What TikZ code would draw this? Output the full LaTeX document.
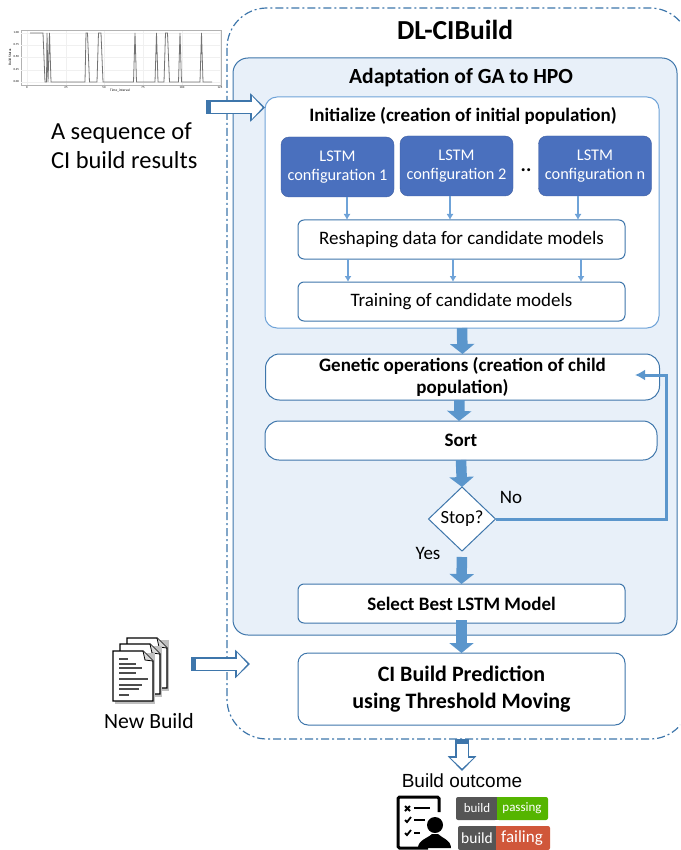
\documentclass[tikz,border=0pt]{standalone}
\usepackage{fontspec}
\setmainfont{Carlito}
\newfontfamily\arialfont{Liberation Sans}
\usetikzlibrary{arrows.meta}
\usetikzlibrary{positioning}
\usetikzlibrary{shapes.geometric}
\definecolor{panelblue}{HTML}{E8F0F9}
\definecolor{edgeblue}{HTML}{3E76AB}
\definecolor{softblue}{HTML}{6FA3D8}
\definecolor{fatblue}{HTML}{5B96CC}
\definecolor{lstmblue}{HTML}{4A70BE}
\definecolor{badgegray}{HTML}{555555}
\definecolor{badgegreen}{HTML}{55B500}
\definecolor{badgered}{HTML}{D0573A}
\newcommand{\fsize}[1]{\fontsize{#1}{#1}\selectfont\baselineskip=1.2\baselineskip}
\newcommand{\hollowlink}[2]{
	\draw[hollowout] (#1) -- (#2);
	\draw[hollowin] (#1) -- (#2);
}
\begin{document}
\begin{tikzpicture}[
		x=1pt, y=-1pt,
		every node/.style={inner sep=0pt, outer sep=0pt, align=center},
		panel/.style={draw=edgeblue, line width=1pt, fill=panelblue, rounded corners=15pt},
		initbox/.style={draw=softblue, line width=1pt, fill=white, rounded corners=12pt, minimum width=394pt, minimum height=231pt},
		lstm/.style={draw=lstmblue!85!black, fill=lstmblue, rounded corners=8pt, minimum width=113pt, minimum height=60pt, text=white, font=\fsize{16.3}},
		stepbox/.style={draw=edgeblue, line width=1pt, fill=white, rounded corners=6pt, minimum width=327pt, minimum height=39pt, font=\fsize{19}},
		widebox/.style={draw=edgeblue, line width=1pt, fill=white, rounded corners=14pt, minimum width=394pt, font=\bfseries\fsize{19}},
		thinarrow/.style={draw=softblue, line width=1.3pt, -{Latex[length=6pt, width=7pt]}},
		fatarrow/.style={draw=fatblue, line width=10.5pt, -{Triangle[length=10pt, width=24pt]}},
		looparrow/.style={draw=fatblue, line width=3pt, -{Latex[length=10pt, width=11pt]}},
		hollowout/.style={draw=edgeblue, line width=14pt, -{Triangle[length=15pt, width=28pt]}},
		hollowin/.style={draw=white, line width=11pt, shorten <=5pt, shorten >=2.5pt, -{Triangle[length=10.5pt, width=22pt]}},
		outlabel/.style={font=\fsize{24.5}, align=left},
		docpage/.style={draw=black, line width=1.2pt, fill=white},
	]
	\useasboundingbox (0,0) rectangle (680,850);
	% outer frame
	\begin{scope}
		\clip (0,0) rectangle (680,850);
		\draw[edgeblue, line width=1.2pt, dash pattern=on 8pt off 3pt on 2pt off 3pt, rounded corners=40pt] (227,8) rectangle (690,739);
	\end{scope}
	\node[font=\bfseries\fsize{27.5}] (title) at (455,30) {DL-CIBuild};
	\draw[panel] (233,58) rectangle (677,635);
	\node[font=\bfseries\fsize{21.6}] (gatitle) at (461,78) {Adaptation of GA to HPO};

	% initial population
	\node[initbox] (init) at (462,212.5) {};
	\node[font=\bfseries\fsize{19}] (inittitle) at (463,116) {Initialize (creation of initial population)};
	\node[lstm] (cfga) at (337.5,167) {LSTM\\configuration 1};
	\node[lstm] (cfgb) at (456.5,166) {LSTM\\configuration 2};
	\node[lstm] (cfgn) at (595,166) {LSTM\\configuration n};
	\node[font=\bfseries\fsize{20}] (dots) at (526,170) {..};
	\node[stepbox] (reshape) at (461.5,239.5) {\raisebox{-2pt}{Reshaping data for candidate models}};
	\node[stepbox, below=23pt of reshape] (train) {\raisebox{-2pt}{Training of candidate models}};

	\draw[thinarrow] (cfga.south -| 347,0) -- (347,220);
	\draw[thinarrow] (cfgb.south -| 450,0) -- (450,220);
	\draw[thinarrow] (cfgn.south -| 578,0) -- (578,220);
	\draw[thinarrow] (reshape.south -| 348,0) -- (train.north -| 348,0);
	\draw[thinarrow] (reshape.south -| 453,0) -- (train.north -| 453,0);
	\draw[thinarrow] (reshape.south -| 581,0) -- (train.north -| 581,0);

	% main column
	\node[widebox, minimum height=46pt] (genetic) at (462.5,377) {Genetic operations (creation of child\\population)};
	\node[widebox, minimum width=392pt, minimum height=39pt, below=21pt of genetic.south, anchor=north, xshift=-1.5pt] (sort) {Sort};
	\node[diamond, draw=edgeblue, line width=1pt, fill=white, minimum width=67pt, minimum height=64pt, aspect=1, font=\fsize{18.6}] (stop) at (462,519) {};
	\node[font=\fsize{18.6}] (stoplabel) at (stop) {Stop?};
	\node[stepbox, font=\bfseries\fsize{19}] (select) at (461.5,603.5) {Select Best LSTM Model};
	\node[stepbox, minimum height=72pt, rounded corners=10pt, font=\bfseries\fsize{22}, below=30pt of select] (predict) {CI Build Prediction\\using Threshold Moving};
	\node[font=\fsize{19}] (nolabel) at (511,497) {No};
	\node[font=\fsize{19}] (yeslabel) at (428,553) {Yes};

	\draw[fatarrow] (init.south) -- (genetic.north);
	\draw[fatarrow] ([xshift=-3pt]genetic.south) -- ([xshift=-2pt]sort.north);
	\draw[fatarrow] (sort.south) -- (stop.north);
	\draw[fatarrow, shorten <=6pt] (stop.south) -- (select.north);
	\draw[fatarrow, shorten <=-3pt] (select.south) -- (predict.north);

	\coordinate (loopturn) at (666,375);
	\coordinate (looptip) at (635,375);
	\draw[looparrow] (stop.east) -| (loopturn) -- (looptip);

	% input plot
	\node[minimum width=200pt, minimum height=55pt, draw=black!30, line width=1pt] (plotframe) at (121,58) {};
	\foreach \gx in {27,66,104,143,182,220} {
		\draw[black!6, line width=0.5pt] (\gx,31) -- (\gx,85);
	}
	\foreach \gy in {33,45,57,70,82} {
		\draw[black!6, line width=0.5pt] (21,\gy) -- (221,\gy);
	}
	\draw[black!55, line width=0.8pt] (30,33) -- (43,33) -- (45,82) -- (46.5,82) -- (47,33) -- (48,82) -- (49.5,33) -- (51,82) -- (85,82) -- (86,33) -- (87.5,33) -- (89.5,82) -- (97,82) -- (98.5,33) -- (101,33) -- (103,82) -- (133.5,82) -- (135,33) -- (136.5,82) -- (155,82) -- (156.5,33) -- (158,82) -- (164,82) -- (165.5,33) -- (167.5,33) -- (169.5,82) -- (178.5,82) -- (180,33) -- (181.5,82) -- (200,82) -- (201.5,33) -- (203,82) -- (212,82);
	\node[font=\fsize{3.5}] (plotx) at (120,91) {Time\_interval};
	\node[font=\fsize{3.5}, rotate=90] (ploty) at (10,57) {Build Status};
	\foreach \tv/\gy in {1.00/33,0.75/45,0.50/57,0.25/70,0.00/82} {
		\node[font=\fsize{3}, anchor=east] at (19,\gy) {\tv};
	}
	\foreach \tv/\gx in {0/27,25/66,50/104,75/143,100/182,125/220} {
		\node[font=\fsize{3}] at (\gx,87.5) {\tv};
	}
	\node[outlabel, anchor=north west] (seqlabel) at (51,122.5) {A sequence of\\CI build results};
	\coordinate (seqtail) at (206,107.5);
	\coordinate (seqhead) at (265,107.5);
	\hollowlink{seqtail}{seqhead}

	% new build pages
	\foreach \dx/\dy in {14/-13,7/-7,0/0} {
		\fill[black!25] (115+\dx,653+\dy) -- (155+\dx,653+\dy) -- (155+\dx,704+\dy) -- (115+\dx,704+\dy) -- cycle;
		\draw[docpage] (113+\dx,651+\dy) -- (143+\dx,651+\dy) -- (153+\dx,661+\dy) -- (153+\dx,701+\dy) -- (113+\dx,701+\dy) -- cycle;
		\draw[black, line width=0.8pt, fill=black!15] (143+\dx,651+\dy) -- (145+\dx,660+\dy) -- (153+\dx,661+\dy);
	}
	\foreach \ly/\lx in {659/128,664/136,668/142,673/136,679/148,685/142,689/139,695/129} {
		\draw[black!70, line width=1.2pt] (119,\ly) -- (\lx,\ly);
	}
	\node[font=\fsize{21.7}] (newlabel) at (149,721) {New Build};
	\coordinate (newtail) at (191,664);
	\coordinate (newhead) at (250,664);
	\hollowlink{newtail}{newhead}

	% outcome
	\coordinate (outtail) at (462,739);
	\coordinate (outhead) at (462,771);
	\hollowlink{outtail}{outhead}
	\node[font=\arialfont\fsize{19}, fill=white] (outcome) at (462,780.5) {Build outcome};

	% clipboard icon
	\draw[black, line width=3pt, rounded corners=1.5pt] (428,848) -- (398,848) -- (398,797) -- (439,797) -- (439,812);
	\foreach \ry/\rx in {808/430,820/425,833/420} {
		\draw[black, line width=1.8pt] (414,\ry) -- (\rx,\ry);
	}
	\draw[black, line width=1.8pt] (405,806) -- (410,811) (410,806) -- (405,811);
	\draw[black, line width=1.8pt] (405,820) -- (407,822) -- (411,817);
	\draw[black, line width=1.8pt] (405,833) -- (407,835) -- (411,830);
	\fill[black] (435,825) circle (8pt);
	\fill[black] (418,848) .. controls (418,840) and (428,838) .. (432,834) -- (438,834) .. controls (442,838) and (451,840) .. (451,848) -- cycle;

	% badges
	\fill[badgegray, rounded corners=2pt] (456,797) rectangle (497,820);
	\fill[badgegreen, rounded corners=2pt] (497,797) rectangle (548,820);
	\fill[badgegray] (495,797) rectangle (497,820);
	\fill[badgegreen] (497,797) rectangle (499,820);
	\node[text=white, font=\fsize{13}] (passa) at (477,808.5) {build};
	\node[text=white, font=\fsize{13}] (passb) at (522,808.5) {passing};
	\fill[badgegray, rounded corners=2pt] (458,826) rectangle (496,850);
	\fill[badgered, rounded corners=2pt] (496,826) rectangle (550,850);
	\fill[badgegray] (494,826) rectangle (496,850);
	\fill[badgered] (496,826) rectangle (498,850);
	\node[text=white, font=\fsize{15.5}] (faila) at (477,838) {build};
	\node[text=white, font=\fsize{17}] (failb) at (522,838) {failing};
\end{tikzpicture}
\end{document}
